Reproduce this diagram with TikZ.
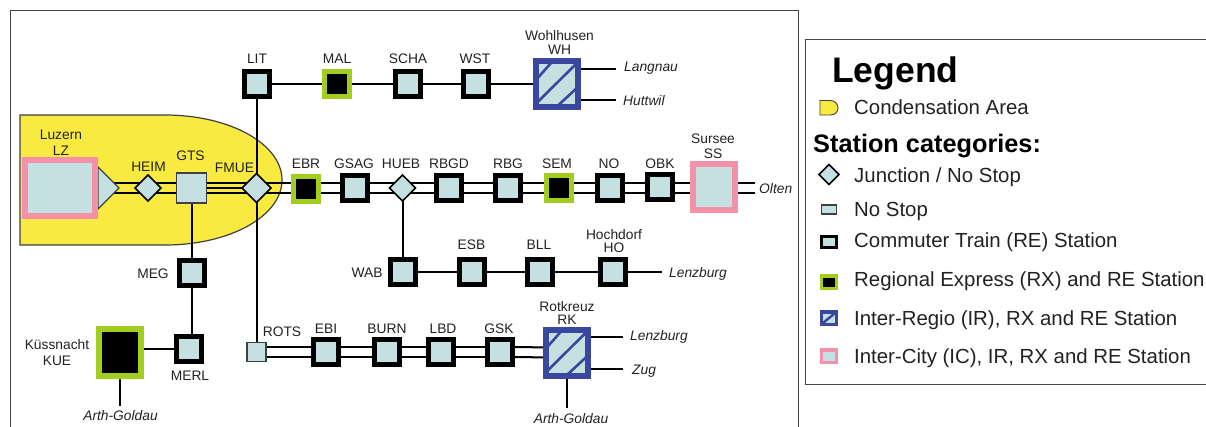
\documentclass[tikz,border=0pt]{standalone}
\usepackage{fontspec}
\setmainfont{Liberation Sans}
\usetikzlibrary{shapes.geometric,calc}
\definecolor{stfill}{HTML}{C5E0E1}
\definecolor{stpink}{HTML}{F291A7}
\definecolor{stgreen}{HTML}{A2CC1E}
\definecolor{stblue}{HTML}{3B479F}
\definecolor{areayellow}{HTML}{F8EA41}
\definecolor{framegray}{HTML}{444444}
\definecolor{txt}{HTML}{222222}
\pgfdeclarelayer{area}
\pgfdeclarelayer{tracks}
\pgfsetlayers{area,tracks,main}
\newcommand{\dbltrack}[2]{%
  \draw[trackline] ([yshift=5pt]#1.center) -- ([yshift=5pt]#2.center);
  \draw[trackline] ([yshift=-5pt]#1.center) -- ([yshift=-5pt]#2.center);}
\newcommand{\hp}[2]{($(path picture bounding box.south west)!#1!(path picture bounding box.south east) + #2*(path picture bounding box.north west) - #2*(path picture bounding box.south west)$)}
\tikzset{
  x=1pt,y=-1pt,
  box/.style n args={3}{rectangle,inner sep=0pt,outer sep=0pt,draw=#1,line width=#2,
     minimum width=30pt-#2,minimum height=30pt-#2,fill=#3},
  restation/.style={box={black}{5pt}{stfill}},
  rxstation/.style={box={stgreen}{5pt}{black}},
  irhatch/.style={path picture={
     \draw[stblue,line width=#1] \hp{.03}{.62}--\hp{.37}{.97} \hp{.03}{.10}--\hp{.98}{.96} \hp{.52}{.03}--\hp{.97}{.41};}},
  irmini/.style={path picture={
     \draw[stblue,line width=#1] \hp{0}{0}--\hp{1}{1};}},
  irstation/.style={box={stblue}{6pt}{stfill},minimum width=42pt,minimum height=46pt,irhatch=2.6pt},
  icstation/.style={box={stpink}{6pt}{stfill},minimum width=42pt,minimum height=46pt},
  nostop/.style={rectangle,inner sep=0pt,outer sep=0pt,draw=black!75,line width=1.2pt,fill=stfill},
  junction/.style={diamond,aspect=1,inner sep=0pt,outer sep=0pt,draw=black,line width=1.5pt,fill=stfill},
  lab/.style={font=\fontsize{13.8}{15}\selectfont,text=txt,inner sep=0pt,text height=10pt,text depth=0pt},
  lab2/.style={font=\fontsize{13.8}{15}\selectfont,text=txt,inner sep=0pt,align=center},
  dest/.style={lab,font=\fontsize{13.8}{15}\selectfont\itshape},
  legtext/.style={font=\fontsize{20.4}{22}\selectfont,text=txt,inner sep=0pt,anchor=west,text height=15pt,text depth=0pt},
  trackline/.style={draw=black,line width=2pt},
  framel/.style={draw=framegray,line width=1pt},
}
\begin{document}
\begin{tikzpicture}
\useasboundingbox (0,0) rectangle (1206,426);
\clip (0,0) rectangle (1206,426);
% frames
\draw[framel] (10,427) -- (10,10) -- (798,10) -- (798,427);
\draw[framel] (1207,39) -- (805,39) -- (805,384) -- (1207,384);
% condensation area
\begin{pgfonlayer}{area}
\fill[white] (0,0) rectangle (1206,426);
\draw[draw=black!75,line width=1.2pt,fill=areayellow] (20,115) -- (165,115)
   .. controls (230,115) and (282,144) .. (282,180)
   .. controls (282,216) and (230,245) .. (165,245) -- (20,245) -- cycle;
\end{pgfonlayer}
% Luzern head triangle
\draw[draw=black!75,line width=1.1pt,fill=stfill] (98,167) -- (119,188) -- (98,209) -- cycle;
% stations: Wohlhusen branch
\node[restation] (LIT) at (256.5,84) {};
\node[rxstation] (MAL) at (337,84) {};
\node[restation] (SCHA) at (408,84) {};
\node[restation] (WST) at (475.5,84) {};
\node[irstation] (WH) at (557,84) {};
% main line
\node[icstation,minimum width=70pt,minimum height=56pt] (LZ) at (60,188) {};
\node[junction,minimum width=26pt,minimum height=26pt] (HEIM) at (148,188) {};
\node[nostop,minimum width=30pt,minimum height=30pt] (GTS) at (191.5,188) {};
\node[junction,minimum width=29pt,minimum height=29pt] (FMUE) at (256.5,188) {};
\node[rxstation] (EBR) at (305.5,188.5) {};
\node[restation] (GSAG) at (354.5,188) {};
\node[junction,minimum width=26pt,minimum height=26pt] (HUEB) at (402.5,188) {};
\node[restation] (RBGD) at (449,188) {};
\node[restation] (RBG) at (507.5,188) {};
\node[rxstation] (SEM) at (559,188) {};
\node[restation] (NO) at (609.5,188) {};
\node[restation] (OBK) at (660,187) {};
\node[icstation] (SS) at (714,187) {};
% Lenzburg branch
\node[restation] (WAB) at (402.5,272) {};
\node[restation] (ESB) at (472,272) {};
\node[restation] (BLL) at (540,272) {};
\node[restation] (HO) at (613,272) {};
% south-west
\node[restation] (MEG) at (191.5,272.5) {};
\node[restation] (MERL) at (188.5,349) {};
\node[rxstation,box={stgreen}{6pt}{black},minimum width=42pt,minimum height=47pt] (KUE) at (120,352.5) {};
% Rotkreuz branch
\node[nostop,minimum width=19pt,minimum height=19pt] (ROTS) at (256.5,352) {};
\node[restation] (EBI) at (326,352) {};
\node[restation] (BURN) at (387,352) {};
\node[restation] (LBD) at (440.5,352) {};
\node[restation] (GSK) at (500,352) {};
\node[irstation] (RK) at (567,352.5) {};
% free ends
\coordinate (eLangnau) at (616,69);
\coordinate (eHuttwil) at (616,100);
\coordinate (eOlten) at (755,188);
\coordinate (eLenz) at (662,272);
\coordinate (eLenzB) at (623,337);
\coordinate (eZug) at (623,369);
\coordinate (eAGa) at (120,406);
\coordinate (eAGb) at (567,408);
% connectors
\begin{pgfonlayer}{tracks}
\draw[trackline] (LIT) -- (MAL);
\draw[trackline] (MAL) -- (SCHA);
\draw[trackline] (SCHA) -- (WST);
\draw[trackline] (WST) -- (WH);
\draw[trackline] (WH.center |- eLangnau) -- (eLangnau);
\draw[trackline] (WH.center |- eHuttwil) -- (eHuttwil);
\draw[trackline] (LIT) -- (ROTS);
\dbltrack{LZ}{HEIM}
\dbltrack{HEIM}{GTS}
\dbltrack{GTS}{FMUE}
\draw[trackline] (GTS) -- (FMUE);
\dbltrack{FMUE}{GSAG}
\dbltrack{GSAG}{HUEB}
\dbltrack{HUEB}{RBGD}
\dbltrack{RBGD}{RBG}
\dbltrack{RBG}{SEM}
\dbltrack{SEM}{NO}
\dbltrack{NO}{eOlten}
\draw[trackline] (HUEB) -- (WAB);
\draw[trackline] (WAB) -- (ESB);
\draw[trackline] (ESB) -- (BLL);
\draw[trackline] (BLL) -- (HO);
\draw[trackline] (HO) -- (eLenz);
\draw[trackline] (GTS) -- (MEG);
\draw[trackline] (MEG) -- (MEG |- MERL);
\draw[trackline] (KUE.center |- MERL) -- (MERL);
\draw[trackline] (KUE) -- (eAGa);
\dbltrack{ROTS}{EBI}
\dbltrack{EBI}{BURN}
\dbltrack{BURN}{LBD}
\dbltrack{LBD}{GSK}
\dbltrack{GSK}{RK}
\draw[trackline] (RK.center |- eLenzB) -- (eLenzB);
\draw[trackline] (RK.center |- eZug) -- (eZug);
\draw[trackline] (RK) -- (eAGb);
\end{pgfonlayer}
% labels
\node[lab] (tLIT) at (257,58) {LIT};
\node[lab] (tMAL) at (337,58) {MAL};
\node[lab] (tSCHA) at (408,58) {SCHA};
\node[lab] (tWST) at (475,58) {WST};
\node[lab2] (tWH) at (559.5,42.5) {Wohlhusen\\[-1pt]WH};
\node[dest,anchor=west] (tLangnau) at (624,66) {Langnau};
\node[dest,anchor=west] (tHuttwil) at (623,100) {Huttwil};
\node[lab2] (tLZ) at (61,142.5) {Luzern\\[1pt]LZ};
\node[lab] (tHEIM) at (148.5,166) {HEIM};
\node[lab] (tGTS) at (190.5,155) {GTS};
\node[lab] (tFMUE) at (234.5,167) {FMUE};
\node[lab] (tEBR) at (306,163) {EBR};
\node[lab] (tGSAG) at (354,163) {GSAG};
\node[lab] (tHUEB) at (401,163) {HUEB};
\node[lab] (tRBGD) at (449,163) {RBGD};
\node[lab] (tRBG) at (508,163) {RBG};
\node[lab] (tSEM) at (557,163) {SEM};
\node[lab] (tNO) at (609,163) {NO};
\node[lab] (tOBK) at (660,163) {OBK};
\node[lab2] (tSS) at (713,146) {Sursee\\[0pt]SS};
\node[dest,anchor=west] (tOlten) at (759,188) {Olten};
\node[lab] (tWAB) at (367,272) {WAB};
\node[lab] (tESB) at (471.5,244) {ESB};
\node[lab] (tBLL) at (539,244) {BLL};
\node[lab2] (tHO) at (614,241.5) {Hochdorf\\[-2pt]HO};
\node[dest,anchor=west] (tLenz) at (669,272) {Lenzburg};
\node[lab] (tMEG) at (153,273) {MEG};
\node[lab] (tMERL) at (190,375) {MERL};
\node[lab2] (tKUE) at (57,352.5) {Küssnacht\\[1pt]KUE};
\node[dest] (tAGa) at (120.5,415) {Arth-Goldau};
\node[lab] (tROTS) at (282,331) {ROTS};
\node[lab] (tEBI) at (326,328) {EBI};
\node[lab] (tBURN) at (387,328) {BURN};
\node[lab] (tLBD) at (443,328) {LBD};
\node[lab] (tGSK) at (499,328) {GSK};
\node[lab2] (tRK) at (567,313) {Rotkreuz\\[-2pt]RK};
\node[dest,anchor=west] (tLenzB) at (630,335) {Lenzburg};
\node[dest,anchor=west] (tZug) at (632,369) {Zug};
\node[dest] (tAGb) at (571,418) {Arth-Goldau};
% legend
\node[inner sep=0pt,anchor=west,font=\fontsize{35.5}{37}\selectfont\bfseries,text height=25pt,text depth=0pt] (legTitle) at (832,70) {Legend};
\draw[draw=black!75,line width=.9pt,fill=areayellow] (820,100.5) -- (830,100.5)
  .. controls (835,100.5) and (838,104) .. (838,108)
  .. controls (838,112) and (835,115) .. (830,115) -- (820,115) -- cycle;
\node[legtext] (leg1) at (854,107) {Condensation Area};
\node[inner sep=0pt,anchor=west,font=\fontsize{25.3}{27}\bfseries\selectfont,text height=18pt,text depth=0pt] (legCat) at (813,143) {Station categories:};
\node[junction,minimum width=20pt,minimum height=20pt] (sym2) at (829,174.5) {};
\node[legtext] (leg2) at (854,175) {Junction / No Stop};
\node[nostop,minimum width=15pt,minimum height=9pt] (sym3) at (829,209.5) {};
\node[legtext] (leg3) at (854,209) {No Stop};
\node[box={black}{2.8pt}{stfill},minimum width=15.5pt,minimum height=11.5pt] (sym4) at (829,242) {};
\node[legtext] (leg4) at (854,240) {Commuter Train (RE) Station};
\node[box={stgreen}{3.5pt}{black},minimum width=15pt,minimum height=12.5pt] (sym5) at (829,282) {};
\node[legtext] (leg5) at (854,279) {Regional Express (RX) and RE Station};
\node[box={stblue}{3.5pt}{stfill},minimum width=15pt,minimum height=12.5pt,irmini=2.5pt] (sym6) at (829,318) {};
\node[legtext] (leg6) at (854,318) {Inter-Regio (IR), RX and RE Station};
\node[box={stpink}{3.5pt}{stfill},minimum width=15pt,minimum height=12.5pt] (sym7) at (829,356) {};
\node[legtext] (leg7) at (854,356) {Inter-City (IC), IR, RX and RE Station};
\end{tikzpicture}
\end{document}
